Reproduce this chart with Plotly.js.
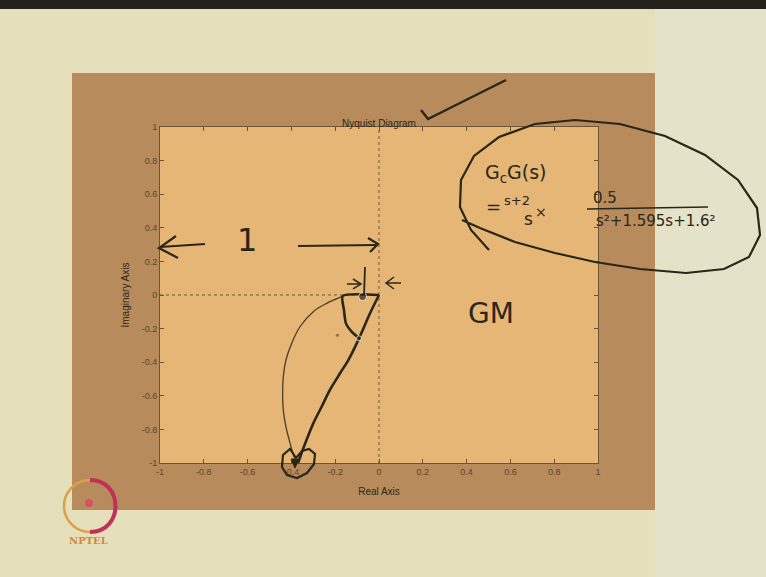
<!DOCTYPE html>
<html>
<head>
<meta charset="utf-8">
<script src="https://cdn.plot.ly/plotly-3.0.1.min.js"></script>
<style>html,body{margin:0;padding:0;background:#e6dfbc;}#chart{width:766px;height:577px;}</style>
</head>
<body>
<div id="chart"></div>
<script>
// ---- chart data ----
const xTickVals = [-1, -0.8, -0.6, -0.4, -0.2, 0, 0.2, 0.4, 0.6, 0.8, 1];
const xTickText = ['-1', '-0.8', '-0.6', '-0.4', '-0.2', '0', '0.2', '0.4', '0.6', '0.8', '1'];
const yTickVals = [-1, -0.8, -0.6, -0.4, -0.2, 0, 0.2, 0.4, 0.6, 0.8, 1];
const yTickText = ['-1', '-0.8', '-0.6', '-0.4', '-0.2', '0', '0.2', '0.4', '0.6', '0.8', '1'];

// thin Nyquist curve
const thinX = [-0.170, -0.239, -0.300, -0.361, -0.399, -0.425, -0.437, -0.440, -0.437, -0.425, -0.406, -0.388, -0.376];
const thinY = [-0.010, -0.050, -0.099, -0.189, -0.288, -0.387, -0.486, -0.585, -0.685, -0.784, -0.883, -0.962, -1.00];

// thick (traced) curve from origin down to the bottom
const thickX = [0, -0.041, -0.091, -0.140, -0.178, -0.224, -0.262, -0.300, -0.331, -0.354, -0.369];
const thickY = [0, -0.109, -0.258, -0.387, -0.466, -0.565, -0.665, -0.764, -0.863, -0.942, -1.00];

// thick bracket: along real axis then down to the curve
const bracketX = [0, -0.166, -0.160, -0.151, -0.125, -0.091];
const bracketY = [0, -0.006, -0.089, -0.169, -0.218, -0.258];

// marked points
const dotX = [-0.075, -0.091];
const dotY = [-0.010, -0.258];
const specX = [-0.19];
const specY = [-0.24];

// dotted axes through origin
const vAxisX = [0, 0], vAxisY = [-1, 1];
const hAxisX = [-1, 0], hAxisY = [0, 0];

// ---- decoration helpers (pixel -> paper) ----
const L = 160, R = 598, T = 127, B = 463;
const PX = px => (px - L) / (R - L);
const PY = py => (B - py) / (B - T);
const poly = pts => pts.map((p, i) => (i ? 'L' : 'M') + PX(p[0]).toFixed(4) + ',' + PY(p[1]).toFixed(4)).join(' ');
const ink = '#2a2618';

const strokeEllipse = [[489,250],[471,230],[460,207],[461,180],[474,156],[499,137],[535,124],[575,120],[620,124],[665,136],[705,155],[738,180],[757,208],[760,235],[749,257],[724,269],[686,273],[640,269],[595,262],[555,253],[515,242],[480,228],[462,220]];
const strokeCheck = [[421,110],[428,119],[450,108],[480,93],[506,80]];
const leftArrowShaft = [[160,247],[205,244]];
const leftArrowHead = [[176,236],[159,248],[178,258]];
const rightArrowShaft = [[298,246],[376,245]];
const rightArrowHead = [[368,238],[378,244],[370,252]];
const vertMark = [[365,267],[364,296]];
const smallArrowL = [[347,284],[361,284]];
const smallArrowLHead = [[353,279],[361,284],[353,289]];
const smallArrowR = [[401,283],[387,283]];
const smallArrowRHead = [[394,277],[386,283],[394,289]];
const heart = [[296,458],[290,449],[283,455],[282,467],[287,475],[297,478],[307,473],[314,464],[315,454],[309,449],[302,451],[296,458]];
const fracLine = [[587,209],[708,207]];

function stroke(pts, w, extra) {
  return Object.assign({type: 'path', xref: 'paper', yref: 'paper', path: poly(pts), line: {color: ink, width: w}, layer: 'above'}, extra || {});
}

const shapes = [
  {type: 'rect', xref: 'paper', yref: 'paper', x0: PX(0), x1: PX(766), y0: PY(9), y1: PY(0), fillcolor: '#23231c', line: {width: 0}, layer: 'below'},
  {type: 'rect', xref: 'paper', yref: 'paper', x0: PX(655), x1: PX(766), y0: PY(577), y1: PY(9), fillcolor: '#e4e2c8', line: {width: 0}, layer: 'below'},
  {type: 'rect', xref: 'paper', yref: 'paper', x0: PX(72), x1: PX(655), y0: PY(510), y1: PY(73), fillcolor: '#b78b5b', line: {width: 0}, layer: 'below'},
  {type: 'rect', xref: 'paper', yref: 'paper', x0: 0, x1: 1, y0: 0, y1: 1, fillcolor: '#e5b676', line: {width: 0}, layer: 'below'},
  // NPTEL logo
  {type: 'circle', xref: 'paper', yref: 'paper', x0: PX(64), x1: PX(116), y0: PY(532), y1: PY(480), line: {color: '#dca04a', width: 2.5}, layer: 'above'},
  {type: 'path', xref: 'paper', yref: 'paper', path: 'M' + PX(90) + ',' + PY(480) + ' C' + PX(124) + ',' + PY(480) + ' ' + PX(124) + ',' + PY(532) + ' ' + PX(90) + ',' + PY(532), line: {color: '#c23056', width: 4}, layer: 'above'},
  {type: 'circle', xref: 'paper', yref: 'paper', x0: PX(85), x1: PX(93), y0: PY(507), y1: PY(499), fillcolor: '#d8506a', line: {width: 0}, layer: 'above'},
  // handwriting
  stroke(strokeEllipse, 2.2),
  stroke(strokeCheck, 2.4),
  stroke(leftArrowShaft, 2.2), stroke(leftArrowHead, 2.2),
  stroke(rightArrowShaft, 2.2), stroke(rightArrowHead, 2.2),
  stroke(vertMark, 1.8), stroke(smallArrowL, 1.5), stroke(smallArrowLHead, 1.5),
  stroke(smallArrowR, 1.5), stroke(smallArrowRHead, 1.5),
  stroke(heart, 2.2),
  {type: 'path', xref: 'paper', yref: 'paper', path: poly([[291,459],[299,459],[295,468]]) + ' Z', fillcolor: ink, line: {color: ink, width: 1}, layer: 'above'},
  stroke(fracLine, 1.6)
];

const hand = {family: 'DejaVu Sans, sans-serif', color: ink};
function note(text, px, py, size, extra) {
  return Object.assign({xref: 'paper', yref: 'paper', x: PX(px), y: PY(py), text: text, showarrow: false, font: Object.assign({}, hand, {size: size}), xanchor: 'center', yanchor: 'middle'}, extra || {});
}

const annotations = [
  note('1', 247, 240, 32),
  note('GM', 491, 313, 28),
  note('G<sub>c</sub>G(s)', 516, 173, 19),
  note('=', 493, 206, 18),
  note('s+2', 517, 200, 13),
  note('s', 528, 219, 17),
  note('×', 541, 212, 14),
  note('0.5', 605, 198, 15),
  note('s²+1.595s+1.6²', 656, 221, 15),
  note('<b>NPTEL</b>', 88, 540, 10, {font: {family: 'DejaVu Serif, serif', size: 10, color: '#d08a3a'}})
];

const traces = [
  {x: hAxisX, y: hAxisY, mode: 'lines', line: {color: '#6b5a3a', width: 1, dash: 'dot'}, hoverinfo: 'skip'},
  {x: vAxisX, y: vAxisY, mode: 'lines', line: {color: '#6b5a3a', width: 1, dash: 'dot'}, hoverinfo: 'skip'},
  {x: thinX, y: thinY, mode: 'lines', line: {color: '#4a3e26', width: 1.3, shape: 'spline'}},
  {x: thickX, y: thickY, mode: 'lines', line: {color: ink, width: 2.6, shape: 'spline'}},
  {x: bracketX, y: bracketY, mode: 'lines', line: {color: ink, width: 2.6, shape: 'spline', smoothing: 0.6}},
  {x: dotX, y: dotY, mode: 'markers', marker: {color: ink, size: [8, 5]}},
  {x: specX, y: specY, mode: 'markers', marker: {color: '#8a6e48', size: 3}}
];

const axisCommon = {
  range: [-1, 1], showgrid: false, zeroline: false, ticks: 'inside', ticklen: 4, tickwidth: 1,
  tickcolor: '#6b5535', showline: true, linecolor: '#6b5535', linewidth: 1, mirror: 'ticks',
  tickfont: {family: 'Liberation Sans, Arial, sans-serif', size: 9, color: '#5a4828'},
  fixedrange: true, automargin: false
};

const layout = {
  width: 766, height: 577,
  margin: {l: L, r: 766 - R, t: T, b: 577 - B, pad: 0},
  paper_bgcolor: '#e6dfbc', plot_bgcolor: 'rgba(0,0,0,0)',
  showlegend: false,
  title: {text: 'Nyquist Diagram', font: {family: 'Liberation Sans, Arial, sans-serif', size: 10, color: '#2e2618'}, x: 0.5, xref: 'paper', y: 1, yref: 'paper', yanchor: 'bottom', pad: {b: 0}},
  xaxis: Object.assign({}, axisCommon, {tickvals: xTickVals, ticktext: xTickText,
    title: {text: 'Real Axis', font: {family: 'Liberation Sans, Arial, sans-serif', size: 10, color: '#2e2618'}, standoff: 12}}),
  yaxis: Object.assign({}, axisCommon, {tickvals: yTickVals, ticktext: yTickText,
    title: {text: 'Imaginary Axis', font: {family: 'Liberation Sans, Arial, sans-serif', size: 10, color: '#2e2618'}, standoff: 10}}),
  shapes: shapes,
  annotations: annotations
};

Plotly.newPlot('chart', traces, layout, {staticPlot: true, displayModeBar: false});
</script>
</body>
</html>
